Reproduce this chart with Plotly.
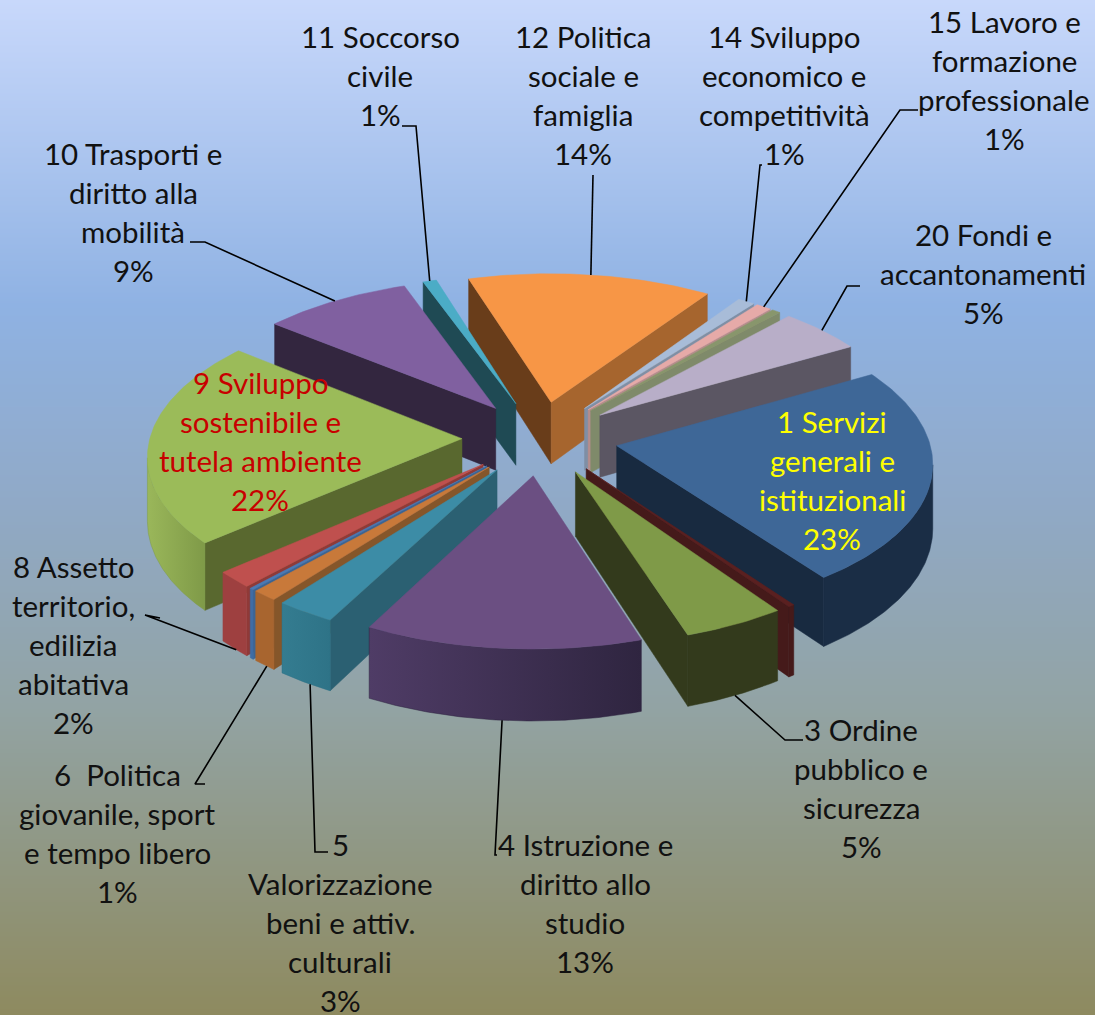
import numpy as np
import plotly.graph_objects as go

# share of each slice, clockwise from START_ANGLE (unlabelled thin ones are 2, 7, 16)
slice_ids = ["1", "2", "3", "4", "5", "6", "7", "8", "9", "10", "11", "12", "14", "15", "16", "20"]
slice_values = [23.8, 0.3, 4.8, 12.9, 2.8, 1.2, 0.2, 1.8, 22.7, 8.8, 0.8, 14.4, 1.0, 0.9, 0.5, 5.0]

# label text, one entry per line
label_lines = {
    "1": ["1 Servizi", "generali e", "istituzionali", "23%"],
    "3": ["3 Ordine", "pubblico e", "sicurezza", "5%"],
    "4": ["4 Istruzione e", "diritto allo", "studio", "13%"],
    "5": ["5", "Valorizzazione", "beni e attiv.", "culturali", "3%"],
    "6": ["6  Politica", "giovanile, sport", "e tempo libero", "1%"],
    "8": ["8 Assetto", "territorio,", "edilizia", "abitativa", "2%"],
    "9": ["9 Sviluppo", "sostenibile e", "tutela ambiente", "22%"],
    "10": ["10 Trasporti e", "diritto alla", "mobilità", "9%"],
    "11": ["11 Soccorso", "civile", "1%"],
    "12": ["12 Politica", "sociale e", "famiglia", "14%"],
    "14": ["14 Sviluppo", "economico e", "competitività", "1%"],
    "15": ["15 Lavoro e", "formazione", "professionale", "1%"],
    "20": ["20 Fondi e", "accantonamenti", "5%"],
}
# label centre x, first line y, colour
label_pos = {
    "1": (832, 421, "#ffff00"), "3": (861, 729, "#111111"), "4": (585, 844, "#111111"),
    "5": (340, 844, "#111111"), "6": (117, 774, "#111111"), "8": (73, 566, "#111111"),
    "9": (260, 382, "#c80000"), "10": (133, 153, "#111111"), "11": (380, 36, "#111111"),
    "12": (583, 36, "#111111"), "14": (784, 36, "#111111"), "15": (1004, 21, "#111111"),
    "20": (983, 234, "#111111"),
}
# leader lines: label side points, on-slice end (0 top rim, 1 bottom rim), degrees off the slice middle
leaders = {
    "3": ([(803, 740), (785, 740)], 1, 0), "4": ([(497, 855), (495, 855)], 1, 0),
    "5": ([(328, 852), (315, 852)], 1, 1), "6": ([(205, 784), (195, 784)], 1, 0.5),
    "8": ([(160, 618), (145, 615)], 1, 0.5), "10": ([(190, 242), (205, 242)], 0, 0),
    "11": ([(402, 126), (416, 126)], 0, 0), "12": ([(593, 175)], 0, 0),
    "14": ([(762, 165), (760, 165)], 0, 0), "15": ([(918, 110), (900, 110)], 0, 0),
    "20": ([(860, 286), (847, 286)], 0, 0),
}

# colours: top, face at first edge, face at last edge, wall at first edge, wall at last edge
top_colors = ["#3e6797", "#5a2020", "#7f9a48", "#6b4f82", "#3c8ca6", "#c8793a", "#4a7ab5", "#bf504e",
              "#9bbb59", "#8060a0", "#4bacc6", "#f79646", "#a8bcd8", "#e6aaa8", "#88966c", "#b8aec8"]
edge0_colors = ["#182a40", "#451a1a", "#333a1c", "#34283f", "#2b6072", "#85562a", "#3b6594", "#8f3a38",
                "#59682f", "#33263f", "#1f4a54", "#693d1a", "#7f8fa5", "#b58d8c", "#7f8a6a", "#5b5663"]
edge1_colors = ["#182a40", "#451a1a", "#333a1c", "#34283f", "#2b6072", "#85562a", "#3b6594", "#8f3a38",
                "#59682f", "#33263f", "#1f4a54", "#a6652e", "#7f8fa5", "#b58d8c", "#7f8a6a", "#5b5663"]
wall0_colors = ["#1a2d45", "#451a1a", "#333a1c", "#2f2540", "#2e7387", "#a8652f", "#3f6da5", "#9e4040",
                "#7f9a48", "#5f4a78", "#3a8a9e", "#b8722f", "#8fa0b8", "#c09090", "#7f8a6a", "#8a8298"]
wall1_colors = ["#1a2d45", "#451a1a", "#333a1c", "#4f3c66", "#347c90", "#a8652f", "#3f6da5", "#9e4040",
                "#9ab75a", "#5f4a78", "#3a8a9e", "#b8722f", "#8fa0b8", "#c09090", "#7f8a6a", "#8a8298"]

# background gradient stops
bg_stops = [(0.0, "#c8d8fb"), (0.3, "#8fb2e3"), (0.5, "#90a9c6"), (0.7, "#92a3a3"), (1.0, "#8e8a5f")]

START_ANGLE = 30.0
EXPLODE = 0.25
CX, CY = 540, 438
FX, FY = 312, 148
PERSP = 0.0994
THICK = 63


def project(x, y, k=0):
    w = 1 + PERSP * y
    return CX + FX * x / w, CY - FY * y / w + THICK * k / w


def area(pts):
    s = 0
    for i in range(len(pts)):
        x0, y0 = pts[i]
        x1, y1 = pts[(i + 1) % len(pts)]
        s += x0 * y1 - x1 * y0
    return s


def poly(pts, color, gradient=None):
    xs = [p[0] for p in pts] + [pts[0][0]]
    ys = [p[1] for p in pts] + [pts[0][1]]
    tr = go.Scatter(x=xs, y=ys, mode="lines", fill="toself", fillcolor=color,
                    line=dict(color=color, width=0.5), hoverinfo="skip", showlegend=False)
    if gradient:
        tr.fillgradient = dict(type="horizontal", colorscale=[[0, gradient[0]], [1, gradient[1]]])
    return tr


total = sum(slice_values)
spans = [v / total * 360 for v in slice_values]
starts = [START_ANGLE - sum(spans[:i]) for i in range(len(spans))]


def apex(i):
    mid = np.radians(starts[i] - spans[i] / 2)
    return EXPLODE * np.cos(mid), EXPLODE * np.sin(mid)


def rim(i, deg):
    ax, ay = apex(i)
    return ax + np.cos(np.radians(deg)), ay + np.sin(np.radians(deg))


fig = go.Figure()

# background
ramp = np.linspace(0, 1, 256)
fig.add_trace(go.Heatmap(x=[0, 1095], y=np.linspace(0, 1015, 256), z=np.column_stack([ramp, ramp]),
                         colorscale=[list(s) for s in bg_stops], showscale=False, hoverinfo="skip",
                         zsmooth="best", zmin=0, zmax=1))

# back slices first
order = sorted(range(len(spans)), key=lambda i: -np.sin(np.radians(starts[i] - spans[i] / 2)))
for i in order:
    a0, a1 = starts[i], starts[i] - spans[i]
    ax, ay = apex(i)
    p_a = project(ax, ay)
    p_ab = project(ax, ay, 1)

    # radial faces
    r0 = rim(i, a0)
    face0 = [p_a, project(*r0), project(*r0, 1), p_ab]
    if area(face0) < 0:
        fig.add_trace(poly(face0, edge0_colors[i]))
    r1 = rim(i, a1)
    face1 = [project(*r1), p_a, p_ab, project(*r1, 1)]
    if area(face1) < 0:
        fig.add_trace(poly(face1, edge1_colors[i]))

    # outer wall, only the part that faces the viewer
    angs = np.linspace(a0, a1, max(2, int(spans[i] * 2)))
    seen = []
    for d0, d1 in zip(angs[:-1], angs[1:]):
        q0, q1 = rim(i, d0), rim(i, d1)
        if area([project(*q0), project(*q1), project(*q1, 1), project(*q0, 1)]) < 0:
            seen += [d0, d1] if not seen else [d1]
    if seen:
        upper = [project(*rim(i, d)) for d in seen]
        lower = [project(*rim(i, d), 1) for d in reversed(seen)]
        fig.add_trace(poly(upper + lower, wall0_colors[i], gradient=(wall1_colors[i], wall0_colors[i])))

    # top
    arc = [project(*rim(i, d)) for d in np.linspace(a0, a1, max(2, int(spans[i]) + 2))]
    fig.add_trace(poly([p_a] + arc, top_colors[i]))

# leader lines
for sid, (pts, k, off) in leaders.items():
    i = slice_ids.index(sid)
    end = project(*rim(i, starts[i] - spans[i] / 2 + off), k)
    line = pts + [end]
    fig.add_trace(go.Scatter(x=[p[0] for p in line], y=[p[1] for p in line], mode="lines",
                             line=dict(color="#000000", width=1.6), hoverinfo="skip", showlegend=False))

# labels, one annotation per line to hold the line spacing
annotations = []
for sid, lines in label_lines.items():
    x, y, color = label_pos[sid]
    for n, text in enumerate(lines):
        annotations.append(dict(x=x, y=y + n * 39, text=text, showarrow=False, xanchor="center", yanchor="middle",
                                font=dict(family="Lato", size=29.5, color=color)))

fig.update_layout(
    width=1095, height=1015, margin=dict(l=0, r=0, t=0, b=0), showlegend=False,
    paper_bgcolor="#90a9c6", plot_bgcolor="rgba(0,0,0,0)", annotations=annotations,
    xaxis=dict(range=[0, 1095], visible=False, fixedrange=True),
    yaxis=dict(range=[1015, 0], visible=False, fixedrange=True),
)

fig.write_html("out.html", post_script="document.body.style.margin='0';", config=dict(displayModeBar=False))
